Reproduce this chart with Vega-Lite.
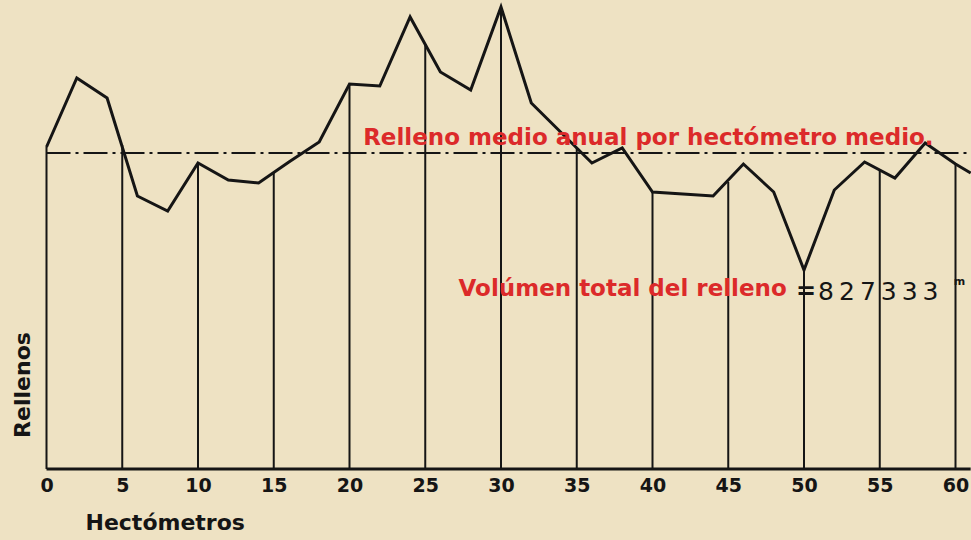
{
  "$schema": "https://vega.github.io/schema/vega-lite/v6.json",
  "width": 909,
  "height": 469,
  "autosize": {"type": "none"},
  "padding": {"left": 46.5, "top": 0, "right": 15.5, "bottom": 71},
  "background": "#eee2c3",
  "config": {"view": {"stroke": null}},
  "datasets": {
    "profile": [
      {"hm": 0, "relleno": 322}, {"hm": 2, "relleno": 391}, {"hm": 4, "relleno": 371},
      {"hm": 6, "relleno": 273}, {"hm": 8, "relleno": 258}, {"hm": 10, "relleno": 306},
      {"hm": 12, "relleno": 289}, {"hm": 14, "relleno": 286}, {"hm": 16, "relleno": 307},
      {"hm": 18, "relleno": 327}, {"hm": 20, "relleno": 385}, {"hm": 22, "relleno": 383},
      {"hm": 24, "relleno": 452}, {"hm": 26, "relleno": 397}, {"hm": 28, "relleno": 379},
      {"hm": 30, "relleno": 462}, {"hm": 32, "relleno": 366}, {"hm": 34, "relleno": 336},
      {"hm": 36, "relleno": 306}, {"hm": 38, "relleno": 321}, {"hm": 40, "relleno": 277},
      {"hm": 42, "relleno": 275}, {"hm": 44, "relleno": 273}, {"hm": 46, "relleno": 305},
      {"hm": 48, "relleno": 277}, {"hm": 50, "relleno": 199}, {"hm": 52, "relleno": 279},
      {"hm": 54, "relleno": 307}, {"hm": 56, "relleno": 291}, {"hm": 58, "relleno": 326},
      {"hm": 60, "relleno": 305}, {"hm": 61, "relleno": 296}
    ],
    "verticals": [
      {"hm": 0, "relleno": 322}, {"hm": 5, "relleno": 324}, {"hm": 10, "relleno": 306},
      {"hm": 15, "relleno": 296}, {"hm": 20, "relleno": 385}, {"hm": 25, "relleno": 425},
      {"hm": 30, "relleno": 462}, {"hm": 35, "relleno": 321}, {"hm": 40, "relleno": 277},
      {"hm": 45, "relleno": 287}, {"hm": 50, "relleno": 199}, {"hm": 55, "relleno": 299},
      {"hm": 60, "relleno": 305}
    ]
  },
  "layer": [
    {
      "data": {"name": "verticals"},
      "mark": {"type": "rule", "color": "#151515", "strokeWidth": 2},
      "encoding": {
        "x": {
          "field": "hm", "type": "quantitative",
          "scale": {"domain": [0, 60], "nice": false, "zero": false},
          "axis": {
            "values": [0, 5, 10, 15, 20, 25, 30, 35, 40, 45, 50, 55, 60],
            "title": "Hectómetros",
            "titleFont": "DejaVu Sans", "titleFontSize": 22, "titleFontWeight": "bold",
            "titleColor": "#151515",
            "titleAlign": "left", "titleX": 38.5, "titleY": 60,
            "titleBaseline": "alphabetic",
            "labelFont": "DejaVu Sans", "labelFontSize": 19, "labelFontWeight": 600,
            "labelColor": "#151515", "labelPadding": 7, "labelBaseline": "top",
            "labelOverlap": false, "labelFlush": false,
            "ticks": false, "domain": false, "grid": false
          }
        },
        "y": {
          "field": "relleno", "type": "quantitative",
          "scale": {"domain": [0, 469], "nice": false},
          "axis": {
            "title": "Rellenos",
            "titleFont": "DejaVu Sans", "titleFontSize": 22, "titleFontWeight": "bold",
            "titleColor": "#151515",
            "titleX": -24.5, "titleY": 384.5, "titleAlign": "center", "titleBaseline": "middle",
            "titleAngle": -90,
            "labels": false, "ticks": false, "domain": false, "grid": false
          }
        },
        "y2": {"datum": 0}
      }
    },
    {
      "data": {"name": "profile"},
      "mark": {"type": "line", "color": "#151515", "strokeWidth": 3, "strokeJoin": "miter", "clip": false},
      "encoding": {
        "x": {"field": "hm", "type": "quantitative"},
        "y": {"field": "relleno", "type": "quantitative"}
      }
    },
    {
      "data": {"values": [{}]},
      "mark": {"type": "rule", "color": "#151515", "strokeWidth": 3},
      "encoding": {
        "x": {"datum": 0, "type": "quantitative"},
        "x2": {"datum": 61},
        "y": {"datum": 0, "type": "quantitative"}
      }
    },
    {
      "data": {"values": [{}]},
      "mark": {"type": "rule", "color": "#151515", "strokeWidth": 2, "strokeDash": [24, 5, 3, 5]},
      "encoding": {
        "x": {"datum": 0, "type": "quantitative"},
        "x2": {"datum": 61},
        "y": {"datum": 316, "type": "quantitative"}
      }
    },
    {
      "data": {"values": [{"label": "Relleno medio anual por hectómetro medio."}]},
      "mark": {"type": "text", "color": "#dc2a2a", "font": "DejaVu Sans", "fontSize": 23, "fontWeight": "bold", "align": "left", "baseline": "alphabetic"},
      "encoding": {
        "x": {"datum": 20.9, "type": "quantitative"},
        "y": {"datum": 324, "type": "quantitative"},
        "text": {"field": "label"}
      }
    },
    {
      "data": {"values": [{"label": "Volúmen total del relleno"}]},
      "mark": {"type": "text", "color": "#dc2a2a", "font": "DejaVu Sans", "fontSize": 23, "fontWeight": "bold", "align": "left", "baseline": "alphabetic"},
      "encoding": {
        "x": {"datum": 27.2, "type": "quantitative"},
        "y": {"datum": 173, "type": "quantitative"},
        "text": {"field": "label"}
      }
    },
    {
      "data": {"values": [{"label": "="}]},
      "mark": {"type": "text", "color": "#151515", "font": "DejaVu Sans", "fontSize": 24, "fontWeight": "bold", "align": "center", "baseline": "middle"},
      "encoding": {
        "x": {"datum": 50.13, "type": "quantitative"},
        "y": {"datum": 177, "type": "quantitative"},
        "text": {"field": "label"}
      }
    },
    {
      "data": {"values": [{"label": "8\u20092\u20097\u20093\u20093\u20093"}]},
      "mark": {"type": "text", "color": "#151515", "font": "DejaVu Sans", "fontSize": 25, "align": "left", "baseline": "alphabetic"},
      "encoding": {
        "x": {"datum": 50.93, "type": "quantitative"},
        "y": {"datum": 169, "type": "quantitative"},
        "text": {"field": "label"}
      }
    },
    {
      "data": {"values": [{"label": "m"}]},
      "mark": {"type": "text", "color": "#151515", "font": "DejaVu Sans", "fontSize": 11, "fontWeight": "bold", "align": "center", "baseline": "middle"},
      "encoding": {
        "x": {"datum": 60.27, "type": "quantitative"},
        "y": {"datum": 187, "type": "quantitative"},
        "text": {"field": "label"}
      }
    }
  ]
}
